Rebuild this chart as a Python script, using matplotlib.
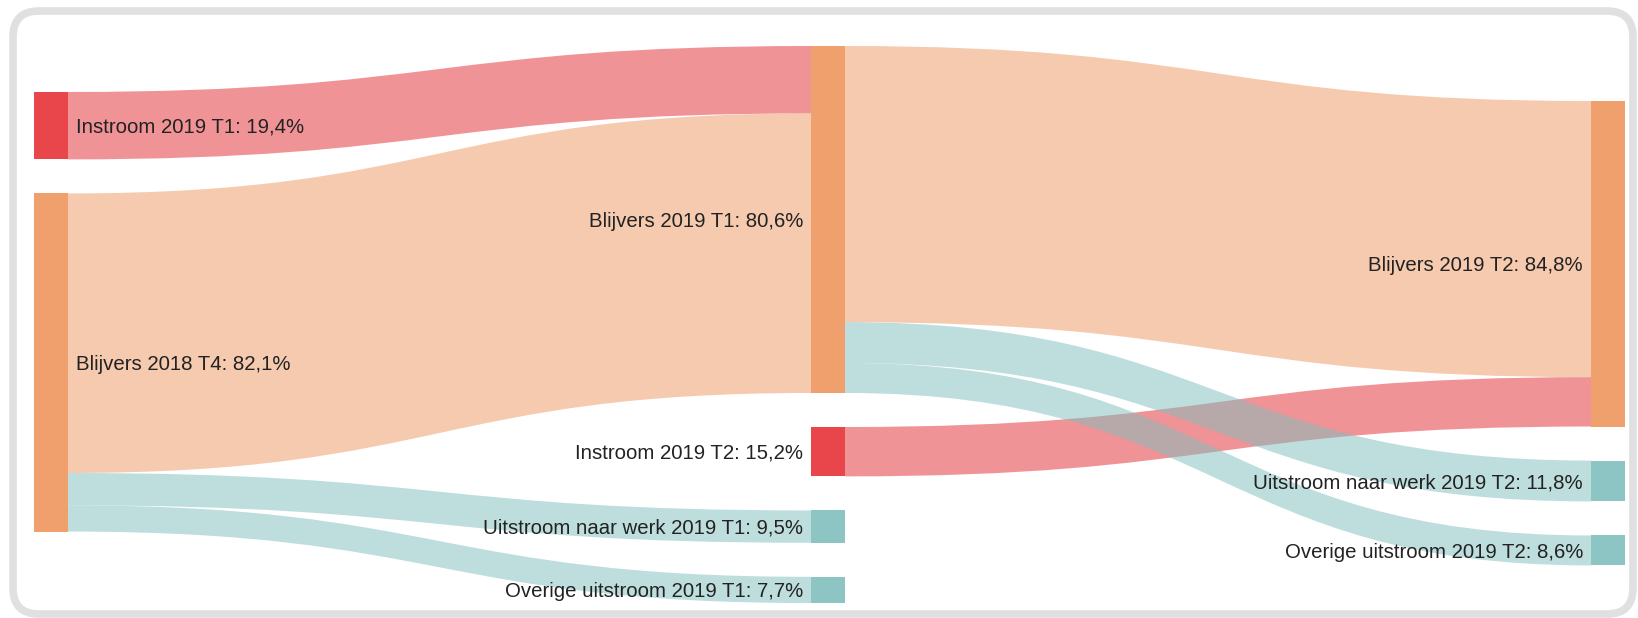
import matplotlib.pyplot as plt
from matplotlib.path import Path
from matplotlib.patches import PathPatch, Rectangle, FancyBboxPatch

plt.rcParams['font.family'] = ['Liberation Sans', 'DejaVu Sans']

# nodes
node_names = ["Instroom 2019 T1", "Blijvers 2018 T4",
              "Blijvers 2019 T1", "Instroom 2019 T2",
              "Uitstroom naar werk 2019 T1", "Overige uitstroom 2019 T1",
              "Blijvers 2019 T2", "Uitstroom naar werk 2019 T2",
              "Overige uitstroom 2019 T2"]
node_column = [0, 0, 1, 1, 1, 1, 2, 2, 2]
node_group = ["instroom", "blijvers", "blijvers", "instroom", "uitstroom",
              "uitstroom", "blijvers", "uitstroom", "uitstroom"]
node_pct = ["19,4%", "82,1%", "80,6%", "15,2%", "9,5%", "7,7%",
            "84,8%", "11,8%", "8,6%"]

# links: source node, target node, size
link_source = [0, 1, 1, 1, 3, 2, 2, 2]
link_target = [2, 2, 4, 5, 6, 6, 7, 8]
link_value = [198, 821, 95, 77, 145, 811, 120, 88]

node_colors = {"instroom": "#e8464b", "blijvers": "#f0a06d", "uitstroom": "#8dc5c5"}
link_colors = {"instroom": "#e3292f", "blijvers": "#ed9761", "uitstroom": "#7fbdbd"}

# layout settings
col_x = [34, 811, 1591]
col_top = [135, 0, 161.5]
node_w = 34
gap = 100
px_per_unit = 0.3405
fs = 14.7

n = len(node_names)
val_in = [0] * n
val_out = [0] * n
for s, t, v in zip(link_source, link_target, link_value):
    val_out[s] += v
    val_in[t] += v
node_val = [max(a, b) for a, b in zip(val_in, val_out)]

# stack the nodes in each column
node_y0 = [0] * n
cursor = list(col_top)
for i in range(n):
    c = node_column[i]
    node_y0[i] = cursor[c]
    cursor[c] += node_val[i] + gap

# offsets of the links inside the nodes
order = sorted(range(len(link_value)), key=lambda k: node_y0[link_target[k]])
sy = {}
used = [0] * n
for k in order:
    s = link_source[k]
    sy[k] = node_y0[s] + used[s]
    used[s] += link_value[k]
order = sorted(range(len(link_value)), key=lambda k: node_y0[link_source[k]])
ty = {}
used = [0] * n
for k in order:
    t = link_target[k]
    ty[k] = node_y0[t] + used[t]
    used[t] += link_value[k]

fig = plt.figure(figsize=(16.38, 6.18), dpi=100)

# frame around the chart
bg = fig.add_axes([0, 0, 1, 1])
bg.set_xlim(0, 1638)
bg.set_ylim(618, 0)
bg.axis("off")
bg.add_patch(FancyBboxPatch((13, 11), 1620, 603, boxstyle="round,pad=0,rounding_size=26",
                            facecolor="white", edgecolor="#e0e0e0", linewidth=5.5))

ax = fig.add_axes([0, 0, 1, 1])
ax.patch.set_alpha(0)
ax.set_xlim(0, 1638)
ax.set_ylim((618 - 46) / px_per_unit, -46 / px_per_unit)
ax.axis("off")

for k in range(len(link_value)):
    s, t, v = link_source[k], link_target[k], link_value[k]
    x0 = col_x[node_column[s]] + node_w
    x1 = col_x[node_column[t]]
    xm = (x0 + x1) / 2
    a0, b0 = sy[k], ty[k]
    a1, b1 = a0 + v, b0 + v
    verts = [(x0, a0), (xm, a0), (xm, b0), (x1, b0),
             (x1, b1), (xm, b1), (xm, a1), (x0, a1), (x0, a0)]
    codes = [Path.MOVETO, Path.CURVE4, Path.CURVE4, Path.CURVE4,
             Path.LINETO, Path.CURVE4, Path.CURVE4, Path.CURVE4, Path.CLOSEPOLY]
    if node_group[t] == "uitstroom":
        grp = "uitstroom"
    else:
        grp = node_group[s]
    ax.add_patch(PathPatch(Path(verts, codes), facecolor=link_colors[grp],
                           edgecolor="none", alpha=0.5))

# baseline shift of 0.35em, like svg dy
dy = 0.35 * fs * 100 / 72 / px_per_unit
for i in range(n):
    c = node_column[i]
    ax.add_patch(Rectangle((col_x[c], node_y0[i]), node_w, node_val[i],
                           facecolor=node_colors[node_group[i]], edgecolor="none"))
    label = node_names[i] + ": " + node_pct[i]
    ym = node_y0[i] + node_val[i] / 2 + dy
    if c == 0:
        ax.text(col_x[c] + node_w + 8, ym, label, ha="left", va="baseline",
                fontsize=fs, color="#222222")
    else:
        ax.text(col_x[c] - 8, ym, label, ha="right", va="baseline",
                fontsize=fs, color="#222222")

fig.savefig("out.png", dpi=100)
